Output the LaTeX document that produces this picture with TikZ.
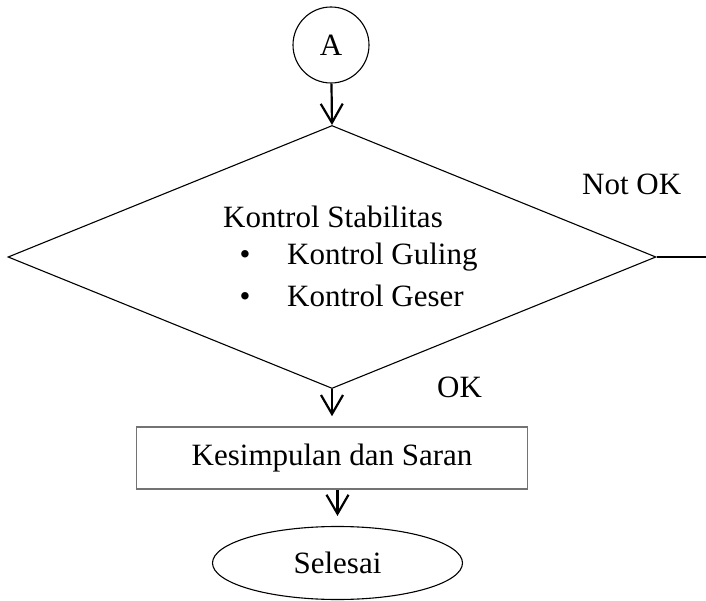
\documentclass[tikz,border=0pt]{standalone}
\usepackage{fontspec}
\setmainfont{Liberation Serif}
\usetikzlibrary{arrows.meta,shapes.geometric}
\begin{document}
\begin{tikzpicture}[x=1pt,y=-1pt,
	every node/.style={font=\fontsize{31}{37}\selectfont},
	flowarrow/.style={line width=2.2pt,-{Straight Barb[length=19pt,width=22pt,line width=2.2pt]}}]
			\useasboundingbox (0,0) rectangle (706,601);
			\node[circle,draw,line width=1.1pt,minimum size=76pt,inner sep=0pt] (A) at (331,45) {A};
			\node[diamond,draw,line width=1.1pt,minimum width=648pt,minimum height=263pt,inner sep=0pt] (cek) at (332,257) {};
			\node[anchor=base] (judul) at (333,228) {Kontrol Stabilitas};
			\node[anchor=base] (b1) at (245,265) {\textbullet};
			\node[anchor=base west,inner sep=0pt] (guling) at (287,265) {Kontrol Guling};
			\node[anchor=base] (b2) at (245,307) {\textbullet};
			\node[anchor=base west,inner sep=0pt] (geser) at (287,307) {Kontrol Geser};
			\node[anchor=base west,inner sep=0pt] (nok) at (582,195) {Not OK};
			\node[anchor=base west,inner sep=0pt] (ok) at (437,397) {OK};
			\node[draw=black!55,line width=1.6pt,minimum width=391pt,minimum height=62pt,inner sep=0pt] (saran) at (332,458) {Kesimpulan dan Saran};
			\node[ellipse,draw,line width=1.1pt,minimum width=250pt,minimum height=73pt,inner sep=0pt] (selesai) at (337.5,563) {Selesai};
			\coordinate (ulang) at (706,257);
			\draw[flowarrow] (A) -- (cek.north);
			\draw[flowarrow] (cek.south) -- ([yshift=10pt]saran.north);
			\draw[flowarrow] (saran.south -| selesai) -- ([yshift=10pt]selesai.north);
			\draw[line width=2pt] (cek.east) -- (ulang);
			
		\end{tikzpicture}
\end{document}
